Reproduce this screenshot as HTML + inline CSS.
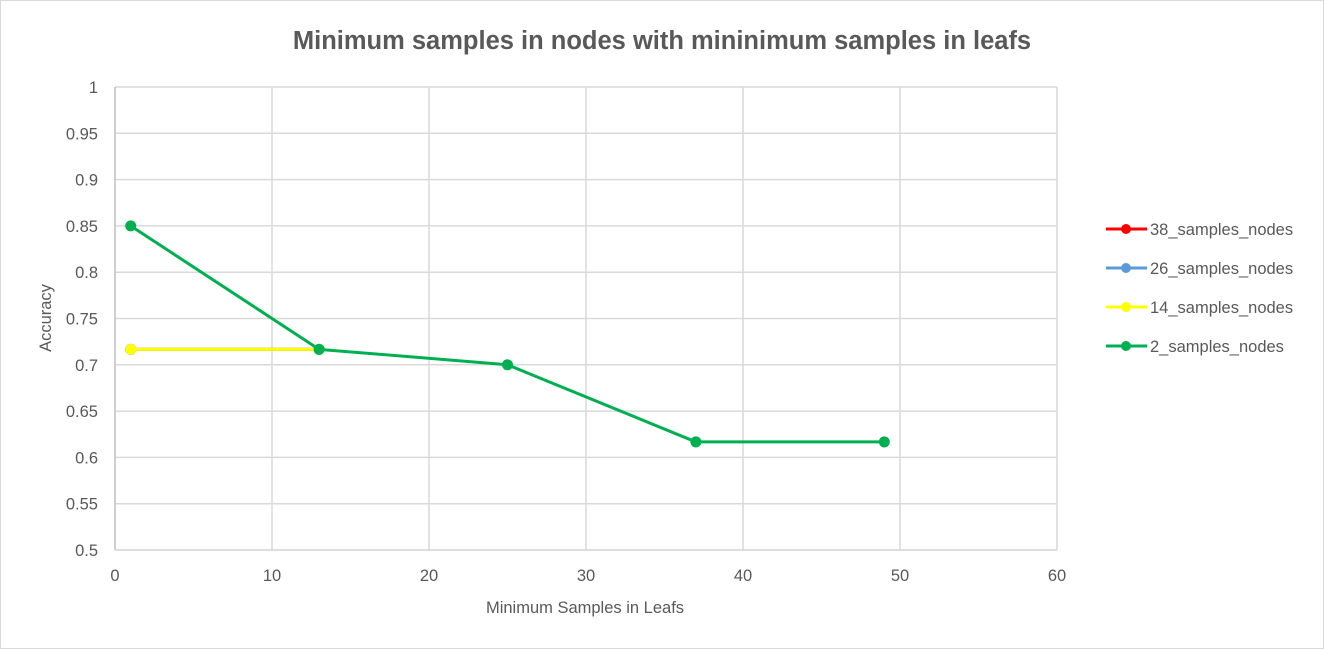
<!DOCTYPE html>
<html><head><meta charset="utf-8"><style>
html,body{margin:0;padding:0;background:#fff}
svg{display:block;font-family:"Liberation Sans",Calibri,sans-serif}
</style></head><body>
<svg id="chart" width="1324" height="649" viewBox="0 0 1324 649">
<rect x="0.5" y="0.5" width="1323" height="648" fill="#fff" stroke="#d9d9d9"/>
<text x="662" y="49" text-anchor="middle" font-size="25.5" font-weight="bold" fill="#595959">Minimum samples in nodes with mininimum samples in leafs</text>
<g id="grid"></g><g id="axes"></g><g id="series"></g><g id="legend"></g>
<text x="585" y="613" text-anchor="middle" font-size="16.5" fill="#595959">Minimum Samples in Leafs</text>
<text transform="translate(51,318) rotate(-90)" text-anchor="middle" font-size="16.5" fill="#595959">Accuracy</text>
</svg>
<script>
const xTicks=[0,10,20,30,40,50,60];
const yTicks=[0.5,0.55,0.6,0.65,0.7,0.75,0.8,0.85,0.9,0.95,1];
const yTickLabels=["0.5","0.55","0.6","0.65","0.7","0.75","0.8","0.85","0.9","0.95","1"];
const seriesNames=["38_samples_nodes","26_samples_nodes","14_samples_nodes","2_samples_nodes"];
const seriesColors=["#ff0000","#5b9bd5","#ffff00","#00b050"];
const x38=[1,13]; const y38=[0.7167,0.7167];
const x26=[1,13]; const y26=[0.7167,0.7167];
const x14=[1,13]; const y14=[0.7167,0.7167];
const x2=[1,13,25,37,49]; const y2=[0.85,0.7167,0.70,0.6167,0.6167];
const L=115,R=1057,T=87,B=550;
const sx=v=>L+(v-0)/(60-0)*(R-L);
const sy=v=>B-(v-0.5)/(1-0.5)*(B-T);
const NS="http://www.w3.org/2000/svg";
function mk(tag,attrs,parent){const e=document.createElementNS(NS,tag);for(const k in attrs)e.setAttribute(k,attrs[k]);parent.appendChild(e);return e;}
const grid=document.getElementById('grid'),axes=document.getElementById('axes'),ser=document.getElementById('series'),leg=document.getElementById('legend');
yTicks.forEach((v,i)=>{
 const l=mk('line',{x1:L,x2:R,y1:sy(v),y2:sy(v),stroke:'#d9d9d9','stroke-width':1.5},grid);
 
 
 const t=mk('text',{x:L-17,y:sy(v)+6,'text-anchor':'end','font-size':16.5,fill:'#595959'},axes);
 t.textContent=yTickLabels[i];
 
 
});
xTicks.forEach(v=>{
 if(v>0){const l=mk('line',{x1:sx(v),x2:sx(v),y1:T,y2:B,stroke:'#d9d9d9','stroke-width':1.5},grid);
 
 }
 const t=mk('text',{x:sx(v),y:B+31,'text-anchor':'middle','font-size':16.5,fill:'#595959'},axes);
 t.textContent=String(v);
 
 
});
const ya=mk('line',{x1:L,x2:L,y1:T,y2:B,stroke:'#bfbfbf','stroke-width':1.5},axes);


const xa=mk('line',{x1:L,x2:R,y1:B,y2:B,stroke:'#d9d9d9','stroke-width':1.5},axes);


const allX=[x38,x26,x14,x2],allY=[y38,y26,y14,y2];
allX.forEach((xs,s)=>{
 const g=mk('g',{},ser);
 
 
 const pts=xs.map((x,i)=>sx(x)+','+sy(allY[s][i])).join(' ');
 const pl=mk('polyline',{points:pts,fill:'none',stroke:seriesColors[s],'stroke-width':3,'stroke-linejoin':'round'},g);
 
 
 xs.forEach((x,i)=>{
  const c=mk('circle',{cx:sx(x),cy:sy(allY[s][i]),r:5.5,fill:seriesColors[s]},g);
  
  
 });
});
seriesNames.forEach((n,i)=>{
 const y=229+i*39;
 const g=mk('g',{},leg);
 
 
 mk('line',{x1:1106,x2:1147,y1:y,y2:y,stroke:seriesColors[i],'stroke-width':3},g);
 mk('circle',{cx:1126,cy:y,r:5,fill:seriesColors[i]},g);
 const t=mk('text',{x:1150,y:y+6,'font-size':16.5,fill:'#595959'},g);
 t.textContent=n;
});
</script>
</body></html>
